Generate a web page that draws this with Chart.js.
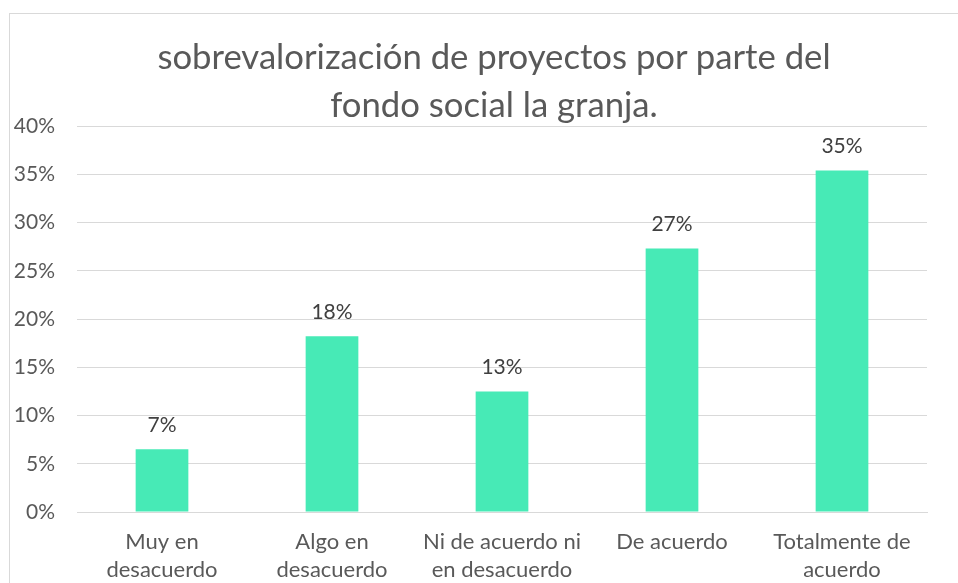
<!DOCTYPE html>
<html lang="es">
  <head>
    <meta charset="UTF-8" />
    <title>Sobrevalorización de proyectos</title>
    <script src="https://cdn.jsdelivr.net/npm/chart.js"></script>
    <style>
      html, body { margin: 0; padding: 0; background: #fff; overflow: hidden; }
      body { width: 958px; height: 583px; position: relative; }
      .marco {
        position: absolute;
        left: 9px;
        top: 13px;
        width: 968px;
        height: 800px;
        border: 1px solid #d9d9d9;
      }
      .titulo {
        position: absolute;
        left: 9px;
        top: 32px;
        width: 970px;
        text-align: center;
        font-family: Lato, "Open Sans", sans-serif;
        font-size: 34.7px;
        line-height: 48px;
        color: #595959;
        z-index: 2;
      }
      #grafico { position: absolute; left: 0; top: 0; }
    </style>
  </head>
  <body>
    <div class="marco"></div>
    <canvas id="grafico" width="958" height="583"></canvas>
    <div class="titulo">
      sobrevalorización de proyectos por parte del<br />fondo social la granja.
    </div>
    <script>
      // Categorías del eje X (dos líneas como en el original)
      const categorias = [
        ["Muy en", "desacuerdo"],
        ["Algo en", "desacuerdo"],
        ["Ni de acuerdo ni", "en desacuerdo"],
        ["De acuerdo"],
        ["Totalmente de", "acuerdo"],
      ]

      // Porcentajes
      const porcentajes = [6.5, 18.2, 12.5, 27.3, 35.4]

      // Marcas del eje Y
      const ejeYMin = 0
      const ejeYMax = 40
      const ejeYPaso = 5

      const colorTexto = "#595959"
      const fuente = "Lato, 'Open Sans', sans-serif"

      // Etiquetas de valor encima de cada barra
      const etiquetasBarras = {
        id: "etiquetasBarras",
        afterDatasetsDraw(chart) {
          const ctx = chart.ctx
          const meta = chart.getDatasetMeta(0)
          ctx.save()
          ctx.fillStyle = "#404040"
          ctx.font = "21px " + fuente
          ctx.textAlign = "center"
          ctx.textBaseline = "middle"
          meta.data.forEach((bar, i) => {
            const valor = chart.data.datasets[0].data[i]
            ctx.fillText(Math.round(valor) + "%", bar.x, bar.y - 24)
          })
          ctx.restore()
        },
      }

      const ctx = document.getElementById("grafico").getContext("2d")
      new Chart(ctx, {
        type: "bar",
        data: {
          labels: categorias,
          datasets: [
            {
              data: porcentajes,
              backgroundColor: "#47EAB6",
              borderWidth: 0,
              categoryPercentage: 1,
              barPercentage: 0.31,
            },
          ],
        },
        options: {
          responsive: false,
          animation: false,
          layout: { padding: { left: 9, right: 31, top: 126, bottom: 0 } },
          plugins: {
            legend: { display: false },
            tooltip: { enabled: false },
          },
          scales: {
            x: {
              grid: { display: false, drawTicks: false },
              border: { color: "#d9d9d9", width: 1 },
              ticks: {
                color: colorTexto,
                font: { family: fuente, size: 22, lineHeight: 1.27 },
                padding: 16,
                maxRotation: 0,
                autoSkip: false,
              },
              afterFit(scale) {
                scale.height = 71
              },
            },
            y: {
              min: ejeYMin,
              max: ejeYMax,
              grid: { color: "#d9d9d9", lineWidth: 1, drawTicks: false },
              border: { display: false },
              ticks: {
                stepSize: ejeYPaso,
                color: colorTexto,
                font: { family: fuente, size: 21 },
                padding: 22,
                callback: (v) => v + "%",
              },
              afterFit(scale) {
                scale.width = 68
              },
            },
          },
        },
        plugins: [etiquetasBarras],
      })
    </script>
  </body>
</html>
